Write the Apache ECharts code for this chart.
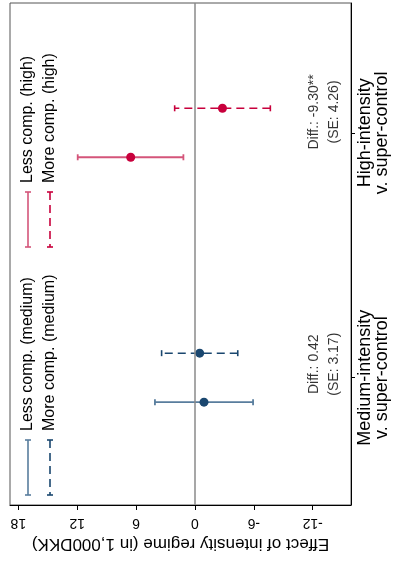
<!DOCTYPE html>
<html><head><meta charset="utf-8">
<script src="https://cdn.jsdelivr.net/npm/echarts@6/dist/echarts.min.js"></script>
<style>html,body{margin:0;padding:0;background:#fff}#c{width:393px;height:561px}</style>
</head><body><div id="c"></div>
<script>
// ---- data ----
const categories = ['High-intensity\nv. super-control', 'Medium-intensity\nv. super-control'];
const catPos = [1, 2];
const lessNames = ['Less comp. (high)', 'Less comp. (medium)'];
const moreNames = ['More comp. (high)', 'More comp. (medium)'];
const lessEst = [6.55, -0.92];
const lessLow = [1.18, -5.92];
const lessHigh = [11.95, 4.08];
const moreEst = [-2.80, -0.48];
const moreLow = [-7.68, -4.36];
const moreHigh = [2.07, 3.40];
const diffLabels = ['Diff.: -9.30**\n(SE: 4.26)', 'Diff.: 0.42\n(SE: 3.17)'];
const xTicks = [18, 12, 6, 0, -6, -12];
const xTitle = 'Effect of intensity regime (in 1,000DKK)';

// ---- styles ----
const darkCol = ['#c8003c', '#1a476f'];
const lightCol = ['#d4557a', '#587d9d'];
const FONT = 'Liberation Sans, Arial, sans-serif';
const OFF = 0.1;

const chart = echarts.init(document.getElementById('c'));

function errRender(color, dashed, lw) {
  return function (params, api) {
    const y = api.value(0), lo = api.value(1), hi = api.value(2);
    const p1 = api.coord([lo, y]), p2 = api.coord([hi, y]);
    const c = 3;
    const capStyle = { stroke: color, lineWidth: lw };
    return { type: 'group', children: [
      { type: 'line', shape: { x1: p1[0], y1: p1[1], x2: p2[0], y2: p2[1] },
        style: { stroke: color, lineWidth: lw, lineDash: dashed ? [8, 5] : null } },
      { type: 'line', shape: { x1: p1[0], y1: p1[1] - c, x2: p1[0], y2: p1[1] + c }, style: capStyle },
      { type: 'line', shape: { x1: p2[0], y1: p2[1] - c, x2: p2[0], y2: p2[1] + c }, style: capStyle }
    ]};
  };
}

const series = [];
// zero line
series.push({
  type: 'scatter', data: [], silent: true,
  markLine: { silent: true, symbol: 'none', label: { show: false },
    lineStyle: { color: '#8a8a8a', width: 1.5, type: 'solid' },
    data: [{ xAxis: 0 }] }
});
for (let i = 0; i < 2; i++) {
  series.push({
    type: 'custom', name: lessNames[i], renderItem: errRender(lightCol[i], false, 1.8),
    encode: { x: [1, 2], y: 0 }, silent: true,
    data: [[catPos[i] + OFF, lessLow[i], lessHigh[i]]], z: 2
  });
  series.push({
    type: 'custom', name: moreNames[i], renderItem: errRender(darkCol[i], true, 1.6),
    encode: { x: [1, 2], y: 0 }, silent: true,
    data: [[catPos[i] - OFF, moreLow[i], moreHigh[i]]], z: 2
  });
  series.push({
    type: 'scatter', symbolSize: 9, itemStyle: { color: darkCol[i], opacity: 1 }, z: 3, silent: true,
    data: [[lessEst[i], catPos[i] + OFF], [moreEst[i], catPos[i] - OFF]]
  });
}
// diff annotations
const diffY = [0.915, 1.945];
series.push({
  type: 'scatter', symbolSize: 0, silent: true,
  data: diffLabels.map((t, i) => ({ value: [-13.2, diffY[i]], name: t })),
  label: { show: true, position: 'inside', rotate: 90, formatter: p => p.name,
    fontFamily: FONT, fontSize: 14, lineHeight: 20, color: '#000', align: 'center', verticalAlign: 'middle' }
});

// legend drawn as graphic
const legendItems = [
  { name: lessNames[0], col: lightCol[0], dash: false, x: 28, y0: 192, y1: 247 },
  { name: moreNames[0], col: darkCol[0], dash: true, x: 50, y0: 192, y1: 247 },
  { name: lessNames[1], col: lightCol[1], dash: false, x: 28, y0: 440, y1: 495 },
  { name: moreNames[1], col: darkCol[1], dash: true, x: 50, y0: 440, y1: 495 }
];
const graphic = [];
legendItems.forEach(it => {
  graphic.push({ type: 'line', shape: { x1: it.x, y1: it.y0, x2: it.x, y2: it.y1 },
    style: { stroke: it.col, lineWidth: 1.6, lineDash: it.dash ? [8, 5] : null } });
  graphic.push({ type: 'line', shape: { x1: it.x - 3, y1: it.y0, x2: it.x + 3, y2: it.y0 },
    style: { stroke: it.col, lineWidth: 1.6 } });
  graphic.push({ type: 'line', shape: { x1: it.x - 3, y1: it.y1, x2: it.x + 3, y2: it.y1 },
    style: { stroke: it.col, lineWidth: 1.6 } });
  graphic.push({ type: 'text', x: it.x, y: it.y0 - 9, rotation: Math.PI / 2,
    style: { text: it.name, fontFamily: FONT, fontSize: 16, fill: '#000',
      textAlign: 'left', textVerticalAlign: 'middle' } });
});

chart.setOption({
  animation: false,
  backgroundColor: '#fff',
  grid: { left: 10, right: 42, top: 3, bottom: 56, show: true, borderColor: '#555', borderWidth: 1 },
  xAxis: {
    type: 'value', inverse: true, min: -15.9, max: 18.85,
    axisLine: { show: true, onZero: false, lineStyle: { color: '#000', width: 1 } },
    axisTick: { show: true, customValues: xTicks, length: 5, lineStyle: { color: '#000' } },
    axisLabel: { customValues: xTicks, rotate: 180, fontFamily: FONT, fontSize: 14, color: '#000', margin: 11 },
    splitLine: { show: false },
    name: xTitle, nameLocation: 'middle', nameRotate: 180, nameGap: 28,
    nameTextStyle: { fontFamily: FONT, fontSize: 17, color: '#000' }
  },
  yAxis: {
    type: 'value', position: 'right', inverse: true, min: 0.47, max: 2.52,
    axisLine: { show: true, onZero: false, lineStyle: { color: '#000', width: 1 } },
    axisTick: { show: true, customValues: catPos, length: 4, lineStyle: { color: '#000' } },
    axisLabel: { customValues: catPos, rotate: 90, fontFamily: FONT, fontSize: 18, lineHeight: 17,
      color: '#000', margin: 6, formatter: v => categories[catPos.indexOf(v)] },
    splitLine: { show: false }
  },
  graphic: graphic,
  series: series
});
</script></body></html>
